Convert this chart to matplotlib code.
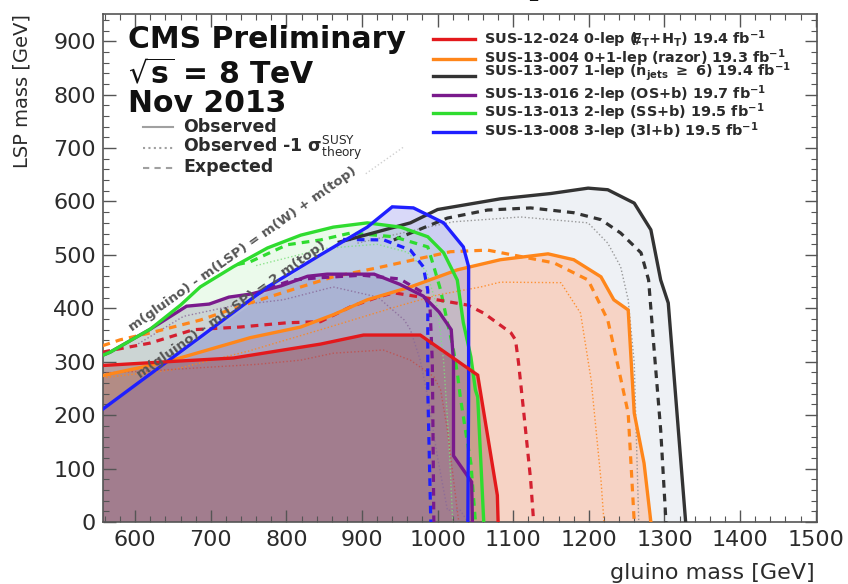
"""Summary of gluino-mediated stop/top exclusion limits (CMS, 8 TeV)."""

import matplotlib
matplotlib.use("Agg")
import matplotlib.pyplot as plt
from matplotlib.ticker import MultipleLocator

# (gluino mass, LSP mass) contours in GeV: observed, expected, observed -1 sigma
red_obs_x = [557, 642, 730, 796, 845, 902, 977, 1053, 1079, 1080]
red_obs_y = [293, 300, 307, 322, 333, 350, 350, 275, 50, 0]
red_exp_x = [557, 571, 620, 677, 739, 801, 845, 885, 921, 942, 987, 1040, 1061, 1097, 1103, 1107, 1114, 1123, 1127]
red_exp_y = [318, 322, 335, 360, 365, 373, 375, 403, 421, 429, 419, 406, 391, 354, 341, 298, 204, 79, 0]
red_m1s_x = [557, 620, 700, 760, 819, 862, 928, 964, 995, 1004, 1013, 1021, 1026, 1028]
red_m1s_y = [279, 283, 290, 295, 303, 316, 322, 303, 272, 247, 172, 79, 22, 0]

orange_obs_x = [557, 642, 686, 752, 819, 862, 907, 964, 1026, 1083, 1146, 1180, 1216, 1233, 1252, 1260, 1273, 1282]
orange_obs_y = [274, 300, 318, 345, 365, 388, 416, 440, 472, 491, 502, 491, 459, 416, 397, 204, 110, 0]
orange_exp_x = [557, 580, 620, 686, 752, 819, 862, 921, 1017, 1066, 1154, 1199, 1225, 1233, 1252, 1260]
orange_exp_y = [330, 341, 354, 378, 410, 440, 459, 476, 506, 509, 485, 453, 378, 328, 204, 0]
orange_m1s_x = [557, 650, 750, 850, 950, 1000, 1057, 1083, 1163, 1189, 1203, 1216, 1220]
orange_m1s_y = [270, 285, 320, 362, 405, 425, 440, 449, 448, 391, 266, 79, 0]

# first point sits on the lower kinematic diagonal, hidden below the blue contour
black_obs_x = [557, 870, 964, 1000, 1083, 1150, 1199, 1225, 1260, 1282, 1295, 1305, 1328]
black_obs_y = [211, 524, 560, 585, 605, 615, 625, 622, 597, 547, 453, 410, 0]
black_exp_x = [942, 1013, 1066, 1123, 1180, 1216, 1242, 1269, 1279, 1286, 1295, 1302]
black_exp_y = [528, 569, 584, 588, 579, 566, 541, 504, 453, 328, 172, 0]
black_m1s_x = [894, 987, 1021, 1110, 1199, 1225, 1242, 1252, 1260, 1266]
black_m1s_y = [522, 552, 562, 571, 560, 522, 478, 416, 298, 0]

purple_obs_x = [557, 567, 620, 668, 698, 724, 754, 793, 828, 854, 916, 950, 981, 1002, 1018, 1021, 1021, 1045, 1046]
purple_obs_y = [312, 318, 361, 404, 408, 421, 427, 442, 460, 464, 464, 445, 423, 393, 360, 300, 124, 75, 0]
purple_exp_x = [760, 780, 809, 841, 900, 950, 980, 990, 993, 995]
purple_exp_y = [425, 440, 453, 457, 462, 455, 430, 400, 300, 0]
purple_m1s_x = [600, 664, 730, 796, 862, 921, 956, 964, 977, 987, 1000, 1013, 1030, 1040]
purple_m1s_y = [330, 385, 405, 416, 440, 421, 378, 360, 303, 234, 120, 22, 22, 0]

green_obs_x = [557, 567, 620, 660, 686, 730, 775, 819, 862, 907, 951, 987, 1008, 1026, 1034, 1044, 1050, 1053, 1061]
green_obs_y = [312, 318, 361, 406, 440, 478, 513, 537, 552, 560, 552, 534, 504, 453, 373, 309, 247, 234, 0]
green_exp_x = [735, 752, 801, 845, 885, 942, 987, 995, 1004, 1013, 1020, 1026, 1030, 1037, 1044, 1050]
green_exp_y = [482, 487, 519, 528, 541, 534, 515, 478, 434, 373, 330, 280, 234, 170, 110, 0]
green_m1s_x = [760, 850, 920, 960, 985, 1000, 1008, 1015, 1020]
green_m1s_y = [480, 512, 520, 505, 470, 400, 300, 150, 0]

blue_obs_x = [557, 597, 686, 775, 845, 907, 940, 968, 1008, 1034, 1041, 1041, 1040]
blue_obs_y = [211, 253, 346, 440, 500, 552, 590, 588, 560, 515, 478, 247, 0]
blue_exp_x = [875, 929, 964, 981, 987, 987, 991]
blue_exp_y = [529, 528, 509, 478, 434, 247, 0]

legend_labels = [
    r"SUS-12-024 0-lep ($/\!\!\!\!E_{T}$+H$_{T}$) 19.4 fb$^{-1}$",
    r"SUS-13-004 0+1-lep (razor) 19.3 fb$^{-1}$",
    r"SUS-13-007 1-lep (n$_{jets}$ $\geq$ 6) 19.4 fb$^{-1}$",
    r"SUS-13-016 2-lep (OS+b) 19.7 fb$^{-1}$",
    r"SUS-13-013 2-lep (SS+b) 19.5 fb$^{-1}$",
    r"SUS-13-008 3-lep (3l+b) 19.5 fb$^{-1}$",
]

RED = "#e3191c"
ORANGE = "#ff861a"
BLACK = "#333333"
PURPLE = "#7a1a8c"
GREEN = "#2fdc2f"
BLUE = "#1f1fff"
TEXT = "#2b2b2b"

plt.rcParams.update({
    "font.family": "DejaVu Sans",
    "mathtext.fontset": "dejavusans",
    "mathtext.default": "bf",
})

W, H = 848, 584
fig = plt.figure(figsize=(W / 100, H / 100), dpi=100)
ax = fig.add_axes([103 / W, 1 - 522 / H, 714 / W, 508 / H])
ax.set_xlim(557.5, 1501.7)
ax.set_ylim(0, 951)


def ax_pt(px, py):
    """Axes-fraction coordinates of an annotation placed by pixel."""
    return (px - 103) / 714, (522 - py) / 508


def closed(xs, ys):
    return [xs[0]] + xs + [xs[-1]], [0] + ys + [0]


# filled exclusion regions, lightest first
for xs, ys, col, a in [
    (black_obs_x, black_obs_y, "#eef1f5", 1.0),
    (orange_obs_x, orange_obs_y, "#f6d3c5", 1.0),
    (purple_obs_x, purple_obs_y, "#6e5a96", 0.25),
    (green_obs_x, green_obs_y, "#78dc78", 0.14),
    (blue_obs_x, blue_obs_y, "#6464e6", 0.24),
    (red_obs_x, red_obs_y, "#821414", 0.27),
]:
    fx, fy = closed(xs, ys)
    ax.fill(fx, fy, color=col, alpha=a, lw=0, zorder=1)

# faint kinematic line m(gluino) - m(LSP) = m(W) + m(top)
ax.plot([905, 955], [652, 702], color="#d0d0d0", lw=1.0, ls=":", zorder=1.5)

# observed -1 sigma (thin dotted)
for xs, ys, col in [
    (black_m1s_x, black_m1s_y, "#8a8a8a"),
    (orange_m1s_x, orange_m1s_y, ORANGE),
    (red_m1s_x, red_m1s_y, "#c0504d"),
    (purple_m1s_x, purple_m1s_y, "#8a6a9a"),
    (green_m1s_x, green_m1s_y, "#7fe07f"),
]:
    ax.plot(xs, ys, color=col, lw=1.0, ls=(0, (1, 1.6)), alpha=0.85, zorder=2)

# expected (thick dashed)
for xs, ys, col in [
    (black_exp_x, black_exp_y, BLACK),
    (orange_exp_x, orange_exp_y, ORANGE),
    (purple_exp_x, purple_exp_y, PURPLE),
    (green_exp_x, green_exp_y, GREEN),
    (blue_exp_x, blue_exp_y, BLUE),
    (red_exp_x, red_exp_y, "#d42030"),
]:
    ax.plot(xs, ys, color=col, lw=2.3, ls=(0, (2.4, 1.9)), zorder=3)

# observed (thick solid)
ax.plot(black_obs_x[1:], black_obs_y[1:], color=BLACK, lw=2.4, zorder=4)
for xs, ys, col in [
    (orange_obs_x, orange_obs_y, ORANGE),
    (purple_obs_x, purple_obs_y, PURPLE),
    (green_obs_x, green_obs_y, GREEN),
    (blue_obs_x, blue_obs_y, BLUE),
    (red_obs_x, red_obs_y, RED),
]:
    ax.plot(xs, ys, color=col, lw=2.4, zorder=4, solid_joinstyle="miter")

# diagonal labels follow slope-one lines in data space
ax.text(742, 511, "m(gluino) - m(LSP) = m(W) + m(top)", rotation=45,
        transform_rotates_text=True, rotation_mode="anchor", ha="center", va="center",
        fontsize=9.6, fontweight="bold", color="#555555", zorder=5)
ax.text(727, 397, "m(gluino) - m(LSP) = 2 m(top)", rotation=45,
        transform_rotates_text=True, rotation_mode="anchor", ha="center", va="center",
        fontsize=9.6, fontweight="bold", color="#555555", zorder=5)

# analysis legend
legend_cols = [RED, ORANGE, BLACK, PURPLE, GREEN, BLUE]
line_rows = [39, 59, 76, 95, 113, 132]
text_rows = [39, 58, 72, 94, 112, 131]
for label, col, ly, ty in zip(legend_labels, legend_cols, line_rows, text_rows):
    x0, y0 = ax_pt(433, ly)
    x1, _ = ax_pt(475, ly)
    ax.plot([x0, x1], [y0, y0], color=col, lw=2.4, transform=ax.transAxes, clip_on=False, zorder=6)
    tx, tyy = ax_pt(484, ty)
    ax.text(tx, tyy, label, transform=ax.transAxes, ha="left", va="center",
            fontsize=10.4, fontweight="bold", color=TEXT, zorder=6)

# CMS header
for txt, py in [("CMS Preliminary", 48), (r"$\sqrt{s}$ = 8 TeV", 83), ("Nov 2013", 112)]:
    tx, ty = ax_pt(128, py)
    ax.text(tx, ty, txt, transform=ax.transAxes, ha="left", va="baseline",
            fontsize=21.5, fontweight="bold", color="#111111")

# line-style key
styles = ["-", (0, (1, 1.6)), (0, (3, 2.5))]
style_labels = ["Observed", r"Observed -1 $\sigma^{\rm SUSY}_{\rm theory}$", "Expected"]
for ls, lab, ly, by in zip(styles, style_labels, [127, 148, 168], [132, 152, 172]):
    x0, y0 = ax_pt(143, ly)
    x1, _ = ax_pt(173, ly)
    ax.plot([x0, x1], [y0, y0], color="#a0a0a0", lw=1.5, ls=ls, transform=ax.transAxes)
    tx, ty = ax_pt(183, by)
    ax.text(tx, ty, lab, transform=ax.transAxes, ha="left", va="baseline",
            fontsize=12.5, fontweight="bold", color=TEXT)

# title, almost entirely above the top edge
fig.text(0.5, 1.0 + 5 / H, r"pp $\rightarrow$ $\tilde{g}\tilde{g}$,  $\tilde{g}\rightarrow$ t$\bar{t}\tilde{\chi}^{0}_{1}$",
         ha="center", va="baseline", fontsize=17, color="#111111")

ax.xaxis.set_major_locator(MultipleLocator(100))
ax.xaxis.set_minor_locator(MultipleLocator(20))
ax.yaxis.set_major_locator(MultipleLocator(100))
ax.yaxis.set_minor_locator(MultipleLocator(20))
ax.tick_params(which="both", direction="in", top=True, right=True, colors="#555555",
               labelcolor=TEXT, labelsize=16)
ax.tick_params(which="major", length=9, width=1.0)
ax.tick_params(which="minor", length=4.5, width=0.8)
ax.tick_params(axis="x", pad=6)
ax.tick_params(axis="y", pad=5)
for sp in ax.spines.values():
    sp.set_color("#555555")
    sp.set_linewidth(1.2)

fig.text(815 / W, 1 - 573 / H, "gluino mass [GeV]", ha="right", va="center", fontsize=16, color=TEXT)
fig.text(22 / W, 1 - 14 / H, "LSP mass [GeV]", rotation=90, ha="center", va="top", fontsize=14, color=TEXT)

fig.savefig("out.png", dpi=100)
